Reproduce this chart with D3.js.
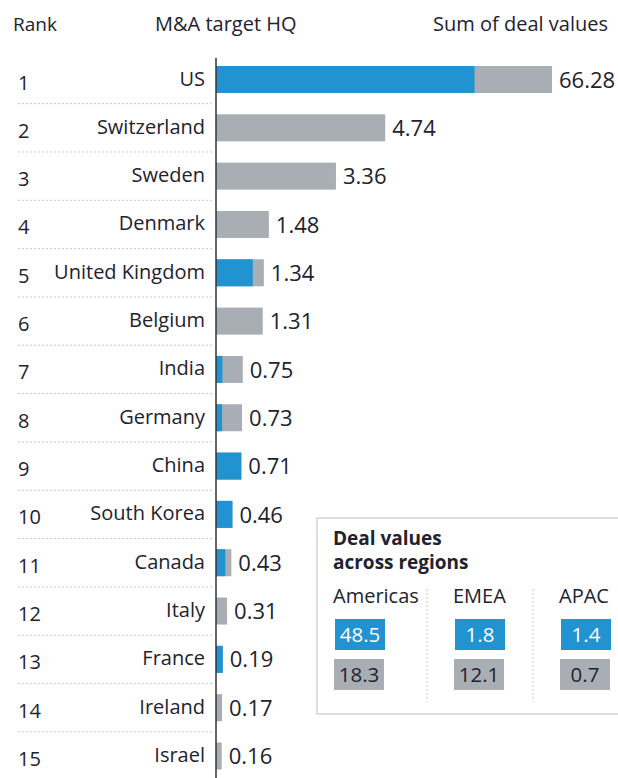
<!DOCTYPE html>
<html>
<head>
<meta charset="utf-8">
<script src="https://cdn.jsdelivr.net/npm/d3@7/dist/d3.min.js"></script>
<style>
  body { margin: 0; background: #fff; }
  svg { display: block; font-family: "Open Sans", sans-serif; }
</style>
</head>
<body>
<svg id="chart"></svg>
<script>
const ranks = ["1", "2", "3", "4", "5", "6", "7", "8", "9", "10", "11", "12", "13", "14", "15"];
const countries = ["US", "Switzerland", "Sweden", "Denmark", "United Kingdom", "Belgium", "India",
  "Germany", "China", "South Korea", "Canada", "Italy", "France", "Ireland", "Israel"];
const totals = [66.28, 4.74, 3.36, 1.48, 1.34, 1.31, 0.75, 0.73, 0.71, 0.46, 0.43, 0.31, 0.19, 0.17, 0.16];
// blue part of each bar
const blueParts = [51.0, 0, 0, 0, 1.03, 0, 0.18, 0.17, 0.71, 0.46, 0.26, 0, 0.19, 0, 0];

const regions = ["Americas", "EMEA", "APAC"];
const regionBlue = ["48.5", "1.8", "1.4"];
const regionGray = ["18.3", "12.1", "0.7"];

const blue = "#2293d1";
const gray = "#a9aeb4";
const ink = "#22222e";

const width = 618, height = 778;
const axisX = 216;

const svg = d3.select("#chart").attr("width", width).attr("height", height);

// headers
svg.append("text").attr("x", 13).attr("y", 31).style("font-size", "19px").style("fill", ink).text("Rank");
svg.append("text").attr("x", 155).attr("y", 31).style("font-size", "20px").style("fill", ink).text("M&A target HQ");
svg.append("text").attr("x", 608).attr("y", 31).attr("text-anchor", "end")
  .style("font-size", "20px").style("fill", ink).text("Sum of deal values");

const rows = countries.map((c, i) => ({ rank: ranks[i], country: c, total: totals[i], blue: blueParts[i] }));

// broken scale: linear up to 5, compressed after that for the US bar
const xScale = d3.scaleLinear().domain([0, 5, 66.28]).range([0, 178.5, 336]);
const yScale = d3.scalePoint().domain(countries).range([79.5, 756]);
const step = yScale.step();
const barH = 27;

// dotted row separators
svg.selectAll(".sep")
  .data(rows.slice(0, -1))
  .enter()
  .append("line")
  .attr("class", "sep")
  .attr("x1", 18)
  .attr("x2", 213)
  .attr("y1", (d) => yScale(d.country) + step / 2)
  .attr("y2", (d) => yScale(d.country) + step / 2)
  .style("stroke", "#c8c8cc")
  .style("stroke-width", 1)
  .style("stroke-dasharray", "2,2");

const g = svg.append("g").attr("transform", `translate(${axisX},0)`);

// gray full bar, then blue part on top
g.selectAll(".bar")
  .data(rows)
  .enter()
  .append("rect")
  .attr("class", "bar")
  .attr("x", 0)
  .attr("y", (d) => yScale(d.country) - barH / 2)
  .attr("width", (d) => xScale(d.total))
  .attr("height", barH)
  .attr("fill", gray);

g.selectAll(".blue-bar")
  .data(rows.filter((d) => d.blue > 0))
  .enter()
  .append("rect")
  .attr("class", "blue-bar")
  .attr("x", 0)
  .attr("y", (d) => yScale(d.country) - barH / 2)
  .attr("width", (d) => xScale(d.total) * d.blue / d.total)
  .attr("height", barH)
  .attr("fill", blue);

g.selectAll(".value-label")
  .data(rows)
  .enter()
  .append("text")
  .attr("class", "value-label")
  .attr("x", (d) => xScale(d.total) + 7)
  .attr("y", (d) => yScale(d.country))
  .attr("dy", "0.37em")
  .style("font-size", "22px")
  .style("fill", ink)
  .text((d) => d.total.toFixed(2));

svg.selectAll(".rank-label")
  .data(rows)
  .enter()
  .append("text")
  .attr("class", "rank-label")
  .attr("x", 18)
  .attr("y", (d) => yScale(d.country) + 3)
  .attr("dy", "0.35em")
  .style("font-size", "20px")
  .style("fill", ink)
  .text((d) => d.rank);

svg.selectAll(".country-label")
  .data(rows)
  .enter()
  .append("text")
  .attr("class", "country-label")
  .attr("x", 205)
  .attr("y", (d) => yScale(d.country) - 1)
  .attr("dy", "0.35em")
  .attr("text-anchor", "end")
  .style("font-size", "20px")
  .style("fill", ink)
  .text((d) => d.country);

// vertical axis line
svg.append("line")
  .attr("x1", axisX).attr("x2", axisX)
  .attr("y1", 58).attr("y2", height)
  .style("stroke", "#333")
  .style("stroke-width", 1.5);

// legend box
const lg = svg.append("g").attr("transform", "translate(317,518)");
lg.append("rect")
  .attr("width", 330)
  .attr("height", 196)
  .attr("fill", "#fff")
  .style("stroke", "#d4d4d8")
  .style("stroke-width", 1.5);

lg.append("text").attr("x", 16).attr("y", 27)
  .style("font-size", "19px").style("font-weight", "bold").style("fill", ink).text("Deal values");
lg.append("text").attr("x", 16).attr("y", 51)
  .style("font-size", "19px").style("font-weight", "bold").style("fill", ink).text("across regions");

const colX = d3.scaleOrdinal().domain(regions).range([16, 136, 242]);
const boxW = 50, boxH = 31;

lg.selectAll(".col-sep")
  .data(regions.slice(1))
  .enter()
  .append("line")
  .attr("class", "col-sep")
  .attr("x1", (d) => colX(d) - 26)
  .attr("x2", (d) => colX(d) - 26)
  .attr("y1", 71)
  .attr("y2", 184)
  .style("stroke", "#c8c8cc")
  .style("stroke-dasharray", "2,2");

lg.selectAll(".region")
  .data(regions)
  .enter()
  .append("text")
  .attr("class", "region")
  .attr("x", (d) => colX(d))
  .attr("y", 85)
  .style("font-size", "20px")
  .style("fill", ink)
  .text((d) => d);

const cells = regions.map((r, i) => ({ region: r, blue: regionBlue[i], gray: regionGray[i] }));

lg.selectAll(".box-blue")
  .data(cells)
  .enter()
  .append("rect")
  .attr("class", "box-blue")
  .attr("x", (d) => colX(d.region) + 2)
  .attr("y", 101)
  .attr("width", boxW)
  .attr("height", boxH)
  .attr("fill", blue);

lg.selectAll(".box-gray")
  .data(cells)
  .enter()
  .append("rect")
  .attr("class", "box-gray")
  .attr("x", (d) => colX(d.region) + 1)
  .attr("y", 141)
  .attr("width", boxW)
  .attr("height", boxH)
  .attr("fill", gray);

lg.selectAll(".txt-blue")
  .data(cells)
  .enter()
  .append("text")
  .attr("class", "txt-blue")
  .attr("x", (d) => colX(d.region) + 2 + boxW / 2)
  .attr("y", 101 + boxH / 2)
  .attr("dy", "0.36em")
  .attr("text-anchor", "middle")
  .style("font-size", "20.5px")
  .style("fill", "#fff")
  .text((d) => d.blue);

lg.selectAll(".txt-gray")
  .data(cells)
  .enter()
  .append("text")
  .attr("class", "txt-gray")
  .attr("x", (d) => colX(d.region) + 1 + boxW / 2)
  .attr("y", 141 + boxH / 2)
  .attr("dy", "0.36em")
  .attr("text-anchor", "middle")
  .style("font-size", "20.5px")
  .style("fill", ink)
  .text((d) => d.gray);
</script>
</body>
</html>
